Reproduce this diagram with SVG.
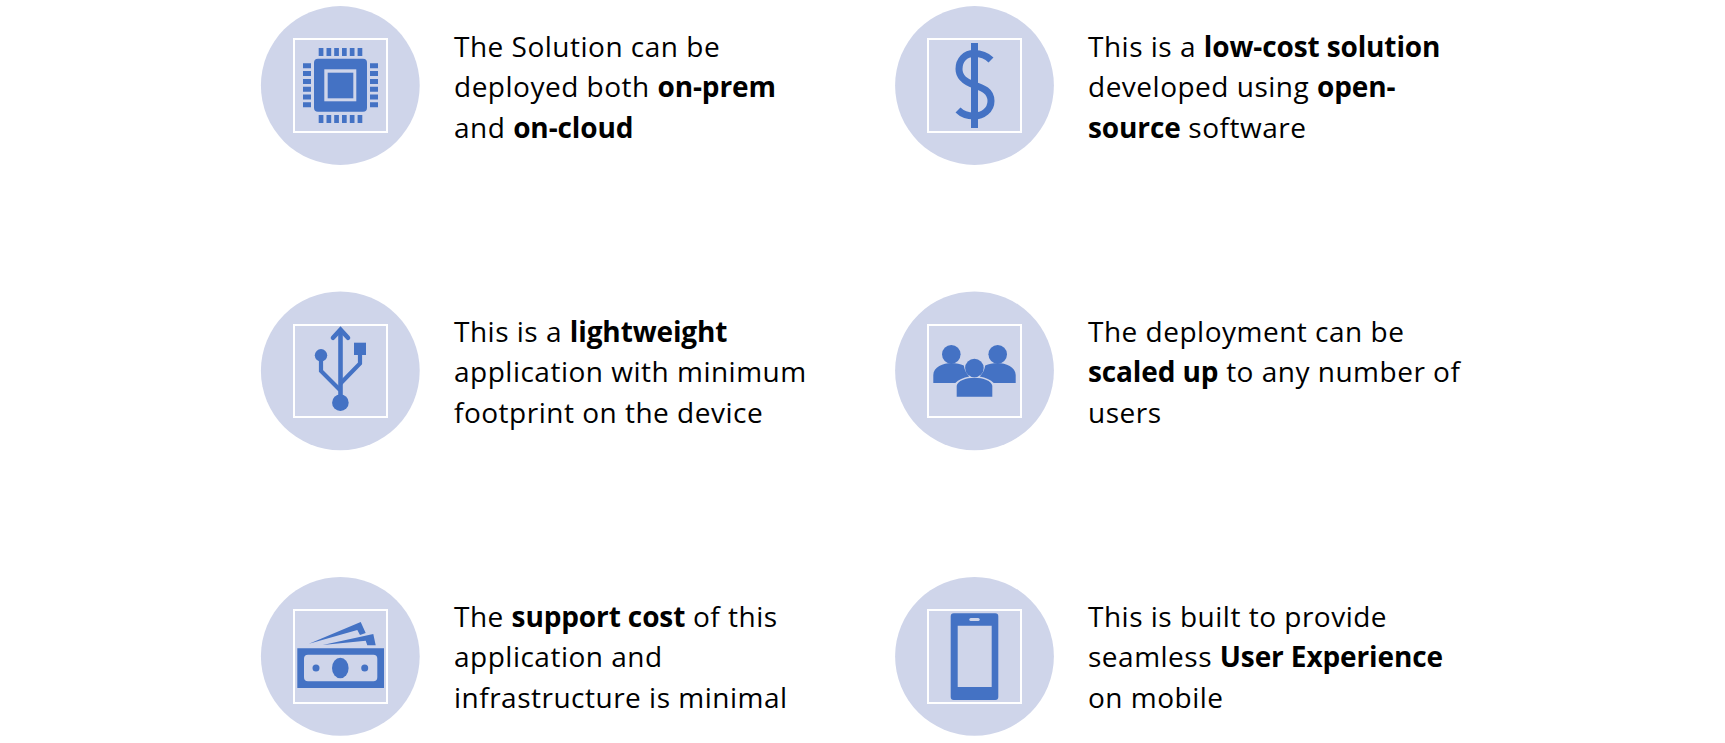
<svg xmlns="http://www.w3.org/2000/svg" width="1725" height="743" viewBox="0 0 1725 743">
<style>
.c{fill:#cfd5ea}.f{fill:none;stroke:#fff;stroke-width:2}.i{fill:#4472c4}.l{fill:none;stroke:#4472c4}
.t{font-family:"Open Sans","Noto Sans",sans-serif;font-size:28px;fill:#000;letter-spacing:.5px}
.t tspan.b{font-weight:700;letter-spacing:-.12px}
</style>
<rect width="1725" height="743" fill="#fff"/>
<g id="node-onprem">
<circle class="c" cx="340.3" cy="85.5" r="79.4"/><rect class="f" x="294" y="39" width="93" height="93"/>
<path class="i" d="M318 58.700h45a4 4 0 0 1 4 4v45a4 4 0 0 1-4 4h-45a4 4 0 0 1-4-4v-45a4 4 0 0 1 4-4z"/>
<rect class="c" x="324.300" y="69.300" width="32" height="32"/>
<rect class="i" x="327.700" y="72.700" width="25.600" height="25.600"/>
<path class="i" d="M318.700 48h4.700v8h-4.700zM326.500 48h4.700v8h-4.700zM334.200 48h4.700v8h-4.700zM342 48h4.700v8h-4.700zM349.800 48h4.700v8h-4.700zM357.600 48h4.700v8h-4.700zM318.700 115h4.700v8h-4.700zM326.500 115h4.700v8h-4.700zM334.200 115h4.700v8h-4.700zM342 115h4.700v8h-4.700zM349.800 115h4.700v8h-4.700zM357.600 115h4.700v8h-4.700zM303 63.300h8v5h-8zM303 71.100h8v5h-8zM303 78.900h8v5h-8zM303 86.700h8v5h-8zM303 94.500h8v5h-8zM303 102.300h8v5h-8zM370 63.300h8v5h-8zM370 71.100h8v5h-8zM370 78.900h8v5h-8zM370 86.700h8v5h-8zM370 94.500h8v5h-8zM370 102.300h8v5h-8z"/>
<text class="t" x="454" y="56.500">The Solution can be</text>
<text class="t" x="454" y="97">deployed both <tspan class="b">on-prem</tspan></text>
<text class="t" x="454" y="137.500">and <tspan class="b">on-cloud</tspan></text>
</g>
<g id="node-lowcost">
<circle class="c" cx="974.5" cy="85.5" r="79.4"/><rect class="f" x="928" y="39" width="93" height="93"/>
<path class="l" stroke-width="7" d="M991 60C986 55 980 53.500 974 53.500C965 53.500 959 60 959 69C959 78 966 82 974 85C983 88 991 91 991 101C991 110 983 116 974 116C967 116 962 114 958 110"/>
<rect class="i" x="971" y="43" width="7" height="85"/>
<text class="t" x="1088" y="56.500">This is a <tspan class="b">low-cost solution</tspan></text>
<text class="t" x="1088" y="97">developed using <tspan class="b">open-</tspan></text>
<text class="t" x="1088" y="137.500"><tspan class="b">source</tspan> software</text>
</g>
<g id="node-lightweight">
<circle class="c" cx="340.3" cy="370.8" r="79.4"/><rect class="f" x="294" y="325" width="93" height="92"/>
<path class="l" stroke-width="4.600" d="M340.500 398V331"/>
<path class="l" stroke-width="4.600" stroke-linecap="round" d="M333 337.700l7.500-8 7.500 8"/>
<path class="l" stroke-width="4.200" d="M321 355v16l19 19M360 350v13.500l-19.500 20"/>
<circle class="i" cx="321" cy="355.300" r="6.200"/><rect class="i" x="354" y="342.700" width="12" height="12.300"/><circle class="i" cx="340.400" cy="402.700" r="8.300"/>
<text class="t" x="454" y="341.500">This is a <tspan class="b">lightweight</tspan></text>
<text class="t" x="454" y="382">application with minimum</text>
<text class="t" x="454" y="422.500">footprint on the device</text>
</g>
<g id="node-scaled">
<circle class="c" cx="974.5" cy="370.8" r="79.4"/><rect class="f" x="928" y="325" width="93" height="92"/>
<circle class="i" cx="951.300" cy="354.300" r="9.300"/><circle class="i" cx="997.700" cy="354.300" r="9.300"/><circle class="i" cx="974.400" cy="368" r="9.300"/>
<path class="i" d="M933.300 383v-8c0-8 10-12 18-12 5 0 9 1 12.500 2.500.5 4 2.500 8 5.500 11-6 1-11 3.500-14 6.500zM1015.700 383v-8c0-8-10-12-18-12-5 0-9 1-12.500 2.500-.5 4-2.500 8-5.500 11 6 1 11 3.500 14 6.500zM956.700 396.700v-11c1-5 9-8 17.800-8s17 3 17.800 8v11z"/>
<text class="t" x="1088" y="341.500">The deployment can be</text>
<text class="t" x="1088" y="382"><tspan class="b">scaled up</tspan> to any number of</text>
<text class="t" x="1088" y="422.500">users</text>
</g>
<g id="node-support">
<circle class="c" cx="340.3" cy="656.3" r="79.4"/><rect class="f" x="294" y="610" width="93" height="93"/>
<path class="i" d="M309 643.700L360.700 622L365.700 633L360 635L357.300 630ZM322.700 645L373.300 634L375.700 645.300L367.300 645.300L365.700 640.700Z"/>
<path class="i" fill-rule="evenodd" d="M297.300 648.300h86.700v39.700h-86.700zM308 654.700a4 4 0 0 0-4 4v18.600a4 4 0 0 0 4 4h65.300a4 4 0 0 0 4-4v-18.600a4 4 0 0 0-4-4z"/>
<ellipse class="i" cx="340.300" cy="668" rx="8.300" ry="10.300"/><circle class="i" cx="316" cy="668" r="3.500"/><circle class="i" cx="364.700" cy="668" r="3.500"/>
<text class="t" x="454" y="626.500">The <tspan class="b">support cost</tspan> of this</text>
<text class="t" x="454" y="667">application and</text>
<text class="t" x="454" y="707.500">infrastructure is minimal</text>
</g>
<g id="node-ux">
<circle class="c" cx="974.5" cy="656.3" r="79.4"/><rect class="f" x="928" y="610" width="93" height="93"/>
<path class="i" fill-rule="evenodd" d="M953.700 613.300h41.600a3 3 0 0 1 3 3v80.700a3 3 0 0 1-3 3h-41.600a3 3 0 0 1-3-3v-80.700a3 3 0 0 1 3-3zM957.700 625.700v61.300h34v-61.300z"/>
<rect x="969.300" y="618" width="10.400" height="3" rx="1.500" fill="#cfd5ea"/>
<text class="t" x="1088" y="626.500">This is built to provide</text>
<text class="t" x="1088" y="667">seamless <tspan class="b">User Experience</tspan></text>
<text class="t" x="1088" y="707.500">on mobile</text>
</g>
</svg>
